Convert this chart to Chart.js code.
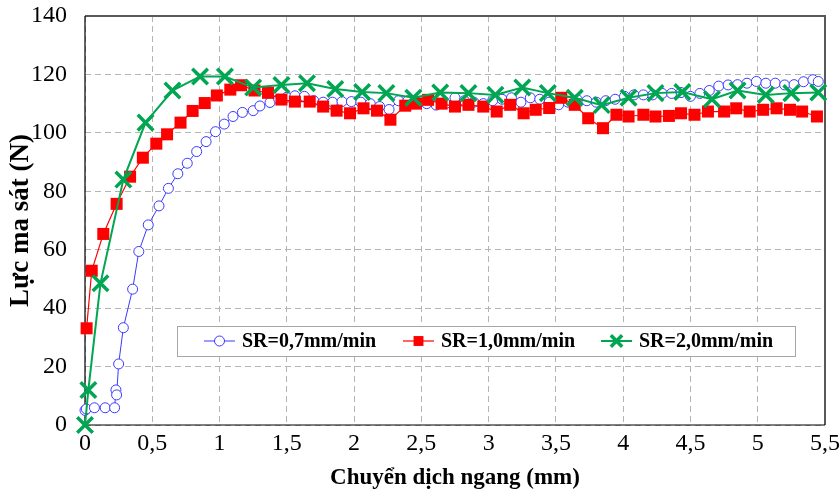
<!DOCTYPE html>
<html>
<head>
<meta charset="utf-8">
<script src="https://cdn.jsdelivr.net/npm/chart.js@4/dist/chart.umd.min.js"></script>
<style>
  html, body { margin: 0; padding: 0; background: #ffffff; }
  #wrap { width: 840px; height: 495px; position: relative; }
</style>
</head>
<body>
<div id="wrap"><canvas id="c" width="840" height="495"></canvas></div>
<script>
// ---- Data ----
const seriesNames = ["SR=0,7mm/min", "SR=1,0mm/min", "SR=2,0mm/min"];

const xTicks = [0, 0.5, 1, 1.5, 2, 2.5, 3, 3.5, 4, 4.5, 5, 5.5];
const yTicks = [0, 20, 40, 60, 80, 100, 120, 140];

const sr07X = [0, 0.01, 0.07, 0.15, 0.22, 0.23, 0.235, 0.25, 0.285, 0.354, 0.40, 0.47, 0.55, 0.62, 0.69, 0.76, 0.83, 0.90, 0.97, 1.035, 1.10, 1.17, 1.25, 1.30, 1.375, 1.44, 1.50, 1.56, 1.63, 1.70, 1.77, 1.84, 1.91, 1.98, 2.05, 2.12, 2.19, 2.26, 2.33, 2.40, 2.47, 2.54, 2.61, 2.68, 2.75, 2.82, 2.89, 2.96, 3.03, 3.10, 3.17, 3.24, 3.31, 3.38, 3.45, 3.52, 3.59, 3.66, 3.73, 3.80, 3.87, 3.94, 4.01, 4.08, 4.15, 4.22, 4.29, 4.36, 4.43, 4.50, 4.57, 4.64, 4.71, 4.78, 4.85, 4.92, 4.99, 5.06, 5.13, 5.20, 5.27, 5.34, 5.41, 5.45];
const sr07Y = [5.0, 5.5, 5.9, 5.9, 5.9, 12.0, 10.3, 20.9, 33.3, 46.5, 59.4, 68.5, 75.0, 81.0, 86.0, 89.6, 93.6, 97.0, 100.4, 103.0, 105.6, 107.0, 107.6, 109.2, 110.4, 111.5, 112.2, 112.7, 112.5, 111.0, 110.5, 110.5, 110.7, 110.7, 110.5, 110.0, 109.0, 108.0, 111.0, 111.0, 110.5, 110.0, 109.5, 110.0, 112.0, 111.0, 110.5, 110.0, 111.0, 111.5, 112.0, 110.5, 112.0, 111.5, 110.5, 109.6, 110.5, 111.3, 111.0, 110.5, 111.0, 111.5, 112.5, 113.0, 113.0, 113.0, 113.5, 113.5, 113.8, 112.5, 113.5, 114.5, 116.0, 116.4, 116.5, 117.0, 117.6, 117.0, 117.0, 116.4, 116.5, 117.5, 118.2, 117.6];

const sr10X = [0.012, 0.05, 0.136, 0.235, 0.335, 0.43, 0.53, 0.61, 0.71, 0.80, 0.89, 0.98, 1.08, 1.16, 1.26, 1.36, 1.46, 1.56, 1.67, 1.77, 1.87, 1.97, 2.07, 2.17, 2.27, 2.38, 2.46, 2.55, 2.65, 2.75, 2.85, 2.96, 3.06, 3.16, 3.26, 3.35, 3.45, 3.54, 3.64, 3.74, 3.85, 3.95, 4.04, 4.15, 4.24, 4.34, 4.43, 4.53, 4.63, 4.75, 4.84, 4.94, 5.04, 5.14, 5.24, 5.33, 5.44];
const sr10Y = [33.1, 52.8, 65.4, 75.7, 85.0, 91.5, 96.3, 99.5, 103.5, 107.5, 110.2, 112.8, 114.8, 116.3, 114.5, 113.7, 111.4, 110.7, 110.7, 109.0, 107.6, 106.7, 108.4, 107.6, 104.5, 109.3, 110.0, 111.3, 110.0, 109.0, 109.6, 109.0, 107.3, 109.6, 106.7, 107.9, 108.5, 112.0, 109.6, 105.0, 101.6, 106.2, 105.6, 106.2, 105.6, 105.8, 106.7, 106.2, 107.3, 107.3, 108.4, 107.3, 107.9, 108.4, 107.9, 107.3, 105.6];

const sr20X = [0, 0.025, 0.115, 0.285, 0.45, 0.65, 0.855, 1.04, 1.25, 1.46, 1.65, 1.86, 2.06, 2.24, 2.44, 2.64, 2.85, 3.05, 3.25, 3.44, 3.64, 3.84, 4.04, 4.24, 4.44, 4.66, 4.85, 5.06, 5.25, 5.45];
const sr20Y = [0, 12.0, 48.5, 84.0, 103.5, 114.5, 119.3, 119.3, 115.5, 116.4, 117.0, 115.0, 114.0, 113.6, 112.0, 113.8, 113.6, 113.0, 115.5, 113.6, 112.0, 109.5, 112.0, 113.6, 114.0, 111.5, 114.5, 113.0, 113.6, 113.8];

const xTitle = "Chuyển dịch ngang (mm)";
const yTitle = "Lực ma sát (N)";

// ---- Build datasets ----
function pts(xs, ys) { return xs.map((x, i) => ({ x: x, y: ys[i] })); }

const BLUE = "#3a3aff", RED = "#ff0000", GREEN = "#00a651";

const datasets = [
  { label: seriesNames[0], data: pts(sr07X, sr07Y), borderColor: BLUE, backgroundColor: "#ffffff",
    pointStyle: "circle", pointRadius: 5, pointBorderWidth: 1, borderWidth: 1, order: 3, clip: false },
  { label: seriesNames[1], data: pts(sr10X, sr10Y), borderColor: RED, backgroundColor: RED,
    pointStyle: "rect", pointRadius: 8.5, pointBorderWidth: 0, borderWidth: 1.2, order: 2, clip: false },
  { label: seriesNames[2], data: pts(sr20X, sr20Y), borderColor: GREEN, backgroundColor: GREEN,
    pointStyle: "crossRot", pointRadius: 11, pointBorderWidth: 3.5, borderWidth: 2, order: 1, clip: false }
];

const SERIF = "'Liberation Serif', 'Times New Roman', serif";

// frame plugin
const framePlugin = {
  id: "frame",
  beforeDatasetsDraw(chart) {
    const { ctx, chartArea: a } = chart;
    ctx.save();
    ctx.lineWidth = 2;
    ctx.strokeStyle = "#595959";
    ctx.beginPath();
    ctx.moveTo(a.left, a.top); ctx.lineTo(a.right, a.top); ctx.lineTo(a.right, a.bottom);
    ctx.stroke();
    ctx.lineWidth = 1.2;
    ctx.strokeStyle = "#000000";
    ctx.beginPath();
    ctx.moveTo(a.left, a.top); ctx.lineTo(a.left, a.bottom); ctx.lineTo(a.right, a.bottom);
    ctx.stroke();
    ctx.restore();
  }
};

// legend plugin (inside plot area)
const legendPlugin = {
  id: "boxLegend",
  afterDatasetsDraw(chart) {
    const { ctx } = chart;
    const box = { x: 177, y: 326, w: 618, h: 30 };
    ctx.save();
    ctx.fillStyle = "#ffffff";
    ctx.fillRect(box.x, box.y, box.w, box.h);
    ctx.strokeStyle = "#a6a6a6";
    ctx.lineWidth = 1;
    ctx.strokeRect(box.x + 0.5, box.y + 0.5, box.w, box.h);
    const starts = [204, 403, 601];
    const cy = box.y + box.h / 2;
    chart.data.datasets.forEach((ds, i) => {
      const sx = starts[i];
      ctx.strokeStyle = ds.borderColor;
      ctx.lineWidth = ds.borderWidth;
      ctx.beginPath(); ctx.moveTo(sx, cy); ctx.lineTo(sx + 31, cy); ctx.stroke();
      ctx.fillStyle = ds.backgroundColor;
      ctx.strokeStyle = ds.borderColor;
      ctx.lineWidth = ds.pointBorderWidth;
      const r = ds.pointStyle === "circle" ? 5 : (ds.pointStyle === "rect" ? 7 : 8);
      Chart.helpers.drawPoint(ctx, { pointStyle: ds.pointStyle, radius: r, rotation: 0, borderWidth: ds.pointBorderWidth }, sx + 15.5, cy);
      ctx.fillStyle = "#000000";
      ctx.font = "bold 20px " + SERIF;
      ctx.textBaseline = "middle";
      ctx.textAlign = "left";
      ctx.fillText(ds.label, sx + 38, cy + 1);
    });
    ctx.restore();
  }
};

new Chart(document.getElementById("c"), {
  type: "scatter",
  data: { datasets: datasets },
  options: {
    responsive: false,
    animation: false,
    events: [],
    showLine: true,
    layout: { padding: { top: 16, right: 15, left: 0, bottom: 0 } },
    plugins: { legend: { display: false }, tooltip: { enabled: false } },
    scales: {
      x: {
        type: "linear", min: 0, max: 5.5,
        afterBuildTicks(scale) { scale.ticks = xTicks.map(v => ({ value: v })); },
        afterFit(scale) { scale.height = 70; scale.paddingLeft = 0; scale.paddingRight = 0; },
        ticks: {
          autoSkip: false, maxRotation: 0, padding: 4, color: "#000000",
          font: { family: SERIF, size: 24 },
          callback: v => String(v).replace(".", ",")
        },
        grid: { color: "#b4b4b4", lineWidth: 1, drawTicks: false },
        border: { display: false, dash: [6, 4] },
        title: { display: true, text: xTitle, color: "#000000",
          font: { family: SERIF, size: 23, weight: "bold" }, padding: { top: 0, bottom: 3 } }
      },
      y: {
        type: "linear", min: 0, max: 140,
        afterBuildTicks(scale) { scale.ticks = yTicks.map(v => ({ value: v })); },
        afterFit(scale) { scale.width = 85; scale.paddingTop = 0; scale.paddingBottom = 0; },
        ticks: { padding: 18, color: "#000000", font: { family: SERIF, size: 24 } },
        grid: { color: "#b4b4b4", lineWidth: 1, drawTicks: false },
        border: { display: false, dash: [6, 4] },
        title: { display: true, text: yTitle, color: "#000000",
          font: { family: SERIF, size: 27, weight: "bold" }, padding: { top: 5, bottom: 0 } }
      }
    }
  },
  plugins: [framePlugin, legendPlugin]
});
</script>
</body>
</html>
